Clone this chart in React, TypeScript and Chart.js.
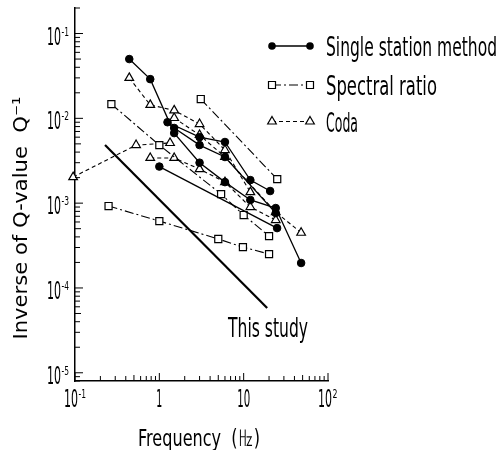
import React, { useEffect, useRef } from "react";
import { Chart, registerables } from "chart.js";

Chart.register(...registerables);

// ---- axis ranges ----
const X_MIN = 0.1;
const X_MAX = 100;
const Y_MIN = 8e-6;
const Y_MAX = 0.2;

const X_TICK_EXPONENTS = [-1, 0, 1, 2];
const Y_TICK_EXPONENTS = [-1, -2, -3, -4, -5];

// ---- Single station method (filled circles, solid) ----
const ss1F = [0.44, 0.78, 1.5, 3, 6, 12, 24, 48];
const ss1Q = [0.05, 0.029, 0.0067, 0.003, 0.00177, 0.00109, 0.000875, 0.000197];
const ss2F = [1.25, 3, 6, 12, 20.6];
const ss2Q = [0.009, 0.006, 0.00526, 0.00187, 0.00139];
const ss3F = [1.5, 3, 6, 24];
const ss3Q = [0.0077, 0.00484, 0.0035, 0.000764];
const ss4F = [1.0, 24.9];
const ss4Q = [0.0027, 0.000508];

// ---- Spectral ratio (open squares, dash-dot) ----
const sr1F = [0.27, 1.0, 5.4, 10, 20];
const sr1Q = [0.0147, 0.00484, 0.00128, 0.000724, 0.000409];
const sr2F = [3.1, 25];
const sr2Q = [0.0169, 0.00192];
const sr3F = [0.25, 1.0, 5.0, 9.8, 20];
const sr3Q = [0.000925, 0.000615, 0.000378, 0.000303, 0.000251];

// ---- Coda (open triangles, dashed) ----
const cd1F = [0.44, 0.78, 1.5, 3, 6, 12];
const cd1Q = [0.03, 0.0144, 0.0124, 0.00857, 0.00423, 0.00135];
const cd2F = [1.5, 3, 6, 24, 48];
const cd2Q = [0.0101, 0.00636, 0.0035, 0.000785, 0.000448];
const cd3F = [0.78, 1.5, 3, 6, 12, 24];
const cd3Q = [0.00341, 0.00341, 0.00252, 0.00177, 0.0009, 0.000632];
const cd4F = [0.095, 0.53, 1.34];
const cd4Q = [0.00203, 0.00484, 0.00512];

// ---- This study ----
const thisStudyF = [0.227, 19.0];
const thisStudyQ = [0.00484, 0.000058];

const LEGEND_LABELS = ["Single station method", "Spectral ratio", "Coda"];
const THIS_STUDY_LABEL = "This study";
const X_TITLE = "Frequency  (\u3390)";
const Y_TITLE = "Inverse of Q-value  Q\u207B\u00B9";

const FONT = "'DejaVu Sans', 'Liberation Sans', sans-serif";
const DASH_DOT = [9, 3, 2, 3];
const DASHED = [4, 3];

function pts(f: number[], q: number[]) {
  return f.map((x, i) => ({ x, y: q[i] }));
}

function ssSet(f: number[], q: number[]) {
  return {
    data: pts(f, q),
    borderColor: "#000",
    borderWidth: 1.3,
    pointStyle: "circle",
    pointRadius: 3.8,
    pointBackgroundColor: "#000",
    pointBorderColor: "#000",
    pointBorderWidth: 1,
    clip: false,
  };
}
function srSet(f: number[], q: number[]) {
  return {
    data: pts(f, q),
    borderColor: "#000",
    borderWidth: 1.1,
    borderDash: DASH_DOT,
    pointStyle: "rect",
    pointRadius: 5,
    pointBackgroundColor: "#fff",
    pointBorderColor: "#000",
    pointBorderWidth: 1.2,
    clip: false,
  };
}
function cdSet(f: number[], q: number[]) {
  return {
    data: pts(f, q),
    borderColor: "#000",
    borderWidth: 1.1,
    borderDash: DASHED,
    pointStyle: "triangle",
    pointRadius: 5,
    pointBackgroundColor: "#fff",
    pointBorderColor: "#000",
    pointBorderWidth: 1.2,
    clip: false,
  };
}

function fitText(
  ctx: CanvasRenderingContext2D,
  text: string,
  x: number,
  y: number,
  size: number,
  width: number,
  align: CanvasTextAlign
) {
  ctx.save();
  ctx.font = `${size}px ${FONT}`;
  const w = ctx.measureText(text).width || 1;
  ctx.translate(x, y);
  ctx.scale(width / w, 1);
  ctx.textAlign = align;
  ctx.textBaseline = "alphabetic";
  ctx.fillStyle = "#000";
  ctx.fillText(text, 0, 0);
  ctx.restore();
}

function drawPow(
  ctx: CanvasRenderingContext2D,
  exp: number,
  left: number,
  baseline: number
) {
  fitText(ctx, "10", left, baseline, 25, 14, "left");
  const e = exp < 0 ? "-" + Math.abs(exp) : String(exp);
  fitText(ctx, e, left + 14.5, baseline - 9, 13, exp < 0 ? 7.5 : 5, "left");
}

function marker(ctx: CanvasRenderingContext2D, kind: string, x: number, y: number) {
  ctx.save();
  ctx.setLineDash([]);
  ctx.lineWidth = 1.2;
  ctx.strokeStyle = "#000";
  ctx.beginPath();
  if (kind === "circle") {
    ctx.arc(x, y, 3.8, 0, Math.PI * 2);
    ctx.fillStyle = "#000";
    ctx.fill();
  } else if (kind === "rect") {
    ctx.rect(x - 3.5, y - 3.5, 7, 7);
    ctx.fillStyle = "#fff";
    ctx.fill();
    ctx.stroke();
  } else {
    const r = 5;
    ctx.moveTo(x, y - r);
    ctx.lineTo(x + r * 0.866, y + r / 2);
    ctx.lineTo(x - r * 0.866, y + r / 2);
    ctx.closePath();
    ctx.fillStyle = "#fff";
    ctx.fill();
    ctx.stroke();
  }
  ctx.restore();
}

const decorPlugin = {
  id: "decor",
  afterDraw(chart: any) {
    const ctx: CanvasRenderingContext2D = chart.ctx;
    const xs = chart.scales.x;
    const ys = chart.scales.y;
    const area = chart.chartArea;
    ctx.save();
    ctx.strokeStyle = "#000";
    ctx.lineWidth = 1;
    ctx.setLineDash([]);

    // inward ticks, x axis
    for (let d = -1; d <= 2; d++) {
      for (let m = 1; m <= 9; m++) {
        const v = m * Math.pow(10, d);
        if (v < X_MIN * 0.999 || v > X_MAX * 1.001) continue;
        const px = xs.getPixelForValue(v);
        const len = m === 1 ? 8 : m === 5 ? 6 : 5;
        ctx.beginPath();
        ctx.moveTo(px, area.bottom);
        ctx.lineTo(px, area.bottom - len);
        ctx.stroke();
      }
    }
    // inward ticks, y axis
    for (let d = -6; d <= -1; d++) {
      for (let m = 1; m <= 9; m++) {
        const v = m * Math.pow(10, d);
        if (v < Y_MIN * 0.999 || v > Y_MAX * 1.001) continue;
        const py = ys.getPixelForValue(v);
        const len = m === 1 ? 8 : m === 5 ? 6 : 5;
        ctx.beginPath();
        ctx.moveTo(area.left, py);
        ctx.lineTo(area.left + len, py);
        ctx.stroke();
      }
    }
    ctx.restore();

    // x tick labels
    const xBase = 407;
    X_TICK_EXPONENTS.forEach((e) => {
      const px = xs.getPixelForValue(Math.pow(10, e));
      if (e === 0) fitText(ctx, "1", px, xBase, 25, 6, "center");
      else if (e === 1) fitText(ctx, "10", px, xBase, 25, 13, "center");
      else {
        const w = e < 0 ? 22 : 20;
        drawPow(ctx, e, px - w / 2, xBase);
      }
    });
    // y tick labels
    Y_TICK_EXPONENTS.forEach((e) => {
      const py = ys.getPixelForValue(Math.pow(10, e));
      drawPow(ctx, e, 47, py + 11);
    });

    // axis titles
    fitText(ctx, X_TITLE, 199, 446, 23, 122, "center");
    ctx.save();
    ctx.translate(27, 218);
    ctx.rotate(-Math.PI / 2);
    fitText(ctx, Y_TITLE, 0, 0, 20, 243, "center");
    ctx.restore();

    // This study label
    fitText(ctx, THIS_STUDY_LABEL, 228, 337, 27, 80, "left");

    // legend
    const rows = [
      { y: 46, dash: [] as number[], kind: "circle", w: 171 },
      { y: 85, dash: DASH_DOT, kind: "rect", w: 111 },
      { y: 121.5, dash: DASHED, kind: "triangle", w: 32 },
    ];
    rows.forEach((r, i) => {
      ctx.save();
      ctx.strokeStyle = "#000";
      ctx.lineWidth = r.kind === "circle" ? 1.3 : 1.1;
      ctx.setLineDash(r.dash);
      ctx.beginPath();
      ctx.moveTo(272, r.y);
      ctx.lineTo(310, r.y);
      ctx.stroke();
      ctx.restore();
      marker(ctx, r.kind, 272, r.y);
      marker(ctx, r.kind, 310, r.y);
      fitText(ctx, LEGEND_LABELS[i], 326, r.y + 10, 27, r.w, "left");
    });
  },
};

export default function App() {
  const ref = useRef<HTMLCanvasElement | null>(null);
  useEffect(() => {
    if (!ref.current) return;
    const chart = new Chart(ref.current, {
      type: "line",
      data: {
        datasets: [
          ssSet(ss1F, ss1Q),
          ssSet(ss2F, ss2Q),
          ssSet(ss3F, ss3Q),
          ssSet(ss4F, ss4Q),
          srSet(sr1F, sr1Q),
          srSet(sr2F, sr2Q),
          srSet(sr3F, sr3Q),
          cdSet(cd1F, cd1Q),
          cdSet(cd2F, cd2Q),
          cdSet(cd3F, cd3Q),
          cdSet(cd4F, cd4Q),
          {
            data: pts(thisStudyF, thisStudyQ),
            borderColor: "#000",
            borderWidth: 2.2,
            pointRadius: 0,
            clip: false,
          },
        ] as any,
      },
      options: {
        animation: false,
        responsive: false,
        maintainAspectRatio: false,
        layout: { padding: { left: 75, right: 173, top: 8, bottom: 69 } },
        plugins: { legend: { display: false }, tooltip: { enabled: false } },
        elements: { line: { tension: 0 } },
        scales: {
          x: {
            type: "logarithmic",
            min: X_MIN,
            max: X_MAX,
            grid: { display: false, drawTicks: false },
            ticks: { display: false },
            border: { display: true, color: "#000", width: 1.5 },
          },
          y: {
            type: "logarithmic",
            min: Y_MIN,
            max: Y_MAX,
            grid: { display: false, drawTicks: false },
            ticks: { display: false },
            border: { display: true, color: "#000", width: 1.5 },
          },
        },
      } as any,
      plugins: [decorPlugin],
    });
    return () => chart.destroy();
  }, []);
  return (
    <div style={{ position: "absolute", left: 0, top: 0, width: 501, height: 450, background: "#fff" }}>
      <canvas ref={ref} width={501} height={450} style={{ display: "block" }} />
    </div>
  );
}
